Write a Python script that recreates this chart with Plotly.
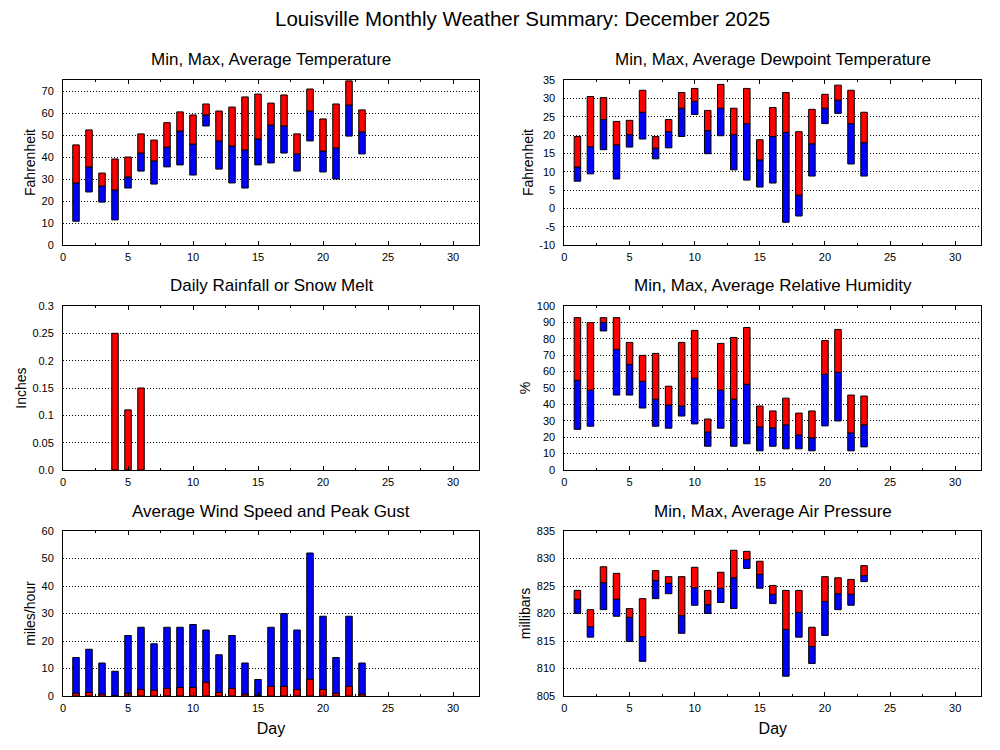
import plotly.graph_objects as go

days = list(range(1, 24))

temp_max = [45.5, 52.3, 32.7, 39.1, 40.0, 50.5, 47.7, 55.6, 60.5, 59.1, 64.1, 60.9, 62.7, 67.3, 68.6, 64.5, 68.2, 50.5, 70.9, 57.3, 64.1, 74.6, 61.4]
temp_avg = [28.2, 35.5, 26.8, 25.0, 30.9, 41.8, 38.2, 44.5, 51.8, 45.9, 59.1, 47.3, 45.0, 43.2, 48.2, 54.5, 54.1, 41.4, 60.9, 42.7, 44.1, 63.6, 51.4]
temp_min = [10.8, 24.1, 19.5, 11.4, 25.9, 33.6, 27.7, 35.5, 36.4, 31.8, 54.1, 34.5, 28.2, 25.9, 36.4, 37.3, 41.8, 33.6, 47.3, 33.2, 30.0, 49.5, 41.4]

dew_max = [19.6, 30.5, 30.2, 23.7, 24.0, 32.2, 19.6, 24.2, 31.6, 32.7, 26.7, 33.8, 27.3, 32.7, 18.7, 27.5, 31.6, 20.9, 27.0, 31.1, 33.6, 32.2, 26.2]
dew_avg = [11.3, 16.8, 24.2, 17.3, 20.1, 26.2, 16.4, 20.9, 27.3, 29.2, 21.2, 27.3, 20.1, 23.1, 13.2, 19.6, 20.7, 3.6, 17.6, 27.3, 29.5, 23.1, 17.9]
dew_min = [7.4, 9.4, 16.0, 8.0, 16.7, 18.9, 13.5, 16.5, 19.6, 25.6, 14.9, 19.8, 10.5, 7.7, 5.8, 6.9, -3.8, -2.1, 8.8, 23.1, 25.9, 12.1, 8.8]
dew_tickvals = [-10, -5, 0, 5, 10, 15, 20, 25, 30, 35]
dew_ticktext = ["-10", "-5", "0", "5", "10", "15", "20", "25", "30", "35"]

rain_days = [4, 5, 6]
rain_in = [0.25, 0.11, 0.15]
rain_tickvals = [0, 0.05, 0.1, 0.15, 0.2, 0.25, 0.3]
rain_ticktext = ["0.0", "0.05", "0.1", "0.15", "0.2", "0.25", "0.3"]

hum_max = [92.9, 89.9, 92.9, 92.9, 77.8, 69.9, 71.1, 51.1, 77.8, 85.1, 31.1, 77.2, 80.8, 86.9, 39.0, 36.0, 43.8, 34.7, 36.0, 79.0, 85.7, 45.7, 45.1]
hum_avg = [54.7, 48.7, 89.9, 73.5, 64.4, 54.1, 43.2, 39.6, 39.0, 56.0, 23.2, 48.7, 43.2, 52.3, 26.3, 25.7, 27.5, 21.4, 19.6, 58.4, 59.6, 22.6, 27.5]
hum_min = [24.8, 26.7, 84.8, 45.7, 45.7, 37.8, 26.7, 25.5, 32.9, 28.1, 14.5, 25.5, 14.5, 16.0, 11.7, 14.5, 12.9, 12.9, 11.7, 26.9, 29.9, 11.7, 14.1]

wind_gust = [14, 17, 12, 9, 22, 25, 19, 25, 25, 26, 24, 15, 22, 12, 6, 25, 30, 24, 52, 29, 14, 29, 12]
wind_avg = [1.0, 1.3, 0.7, 0.2, 1.0, 2.4, 2.1, 2.8, 3.1, 3.1, 5.0, 1.3, 2.8, 0.7, 0.0, 3.5, 3.5, 2.4, 6.1, 2.4, 1.0, 3.5, 0.7]

pres_max = [824.2, 820.7, 828.5, 827.3, 820.9, 822.7, 827.8, 826.7, 826.7, 828.4, 824.2, 827.5, 831.5, 831.3, 829.5, 825.1, 824.2, 824.2, 817.5, 826.7, 826.5, 826.2, 828.7]
pres_avg = [822.6, 817.6, 825.6, 822.6, 819.3, 815.8, 826.0, 825.5, 819.6, 824.7, 821.6, 824.6, 826.5, 829.8, 827.1, 823.5, 817.1, 820.2, 814.0, 822.2, 823.6, 823.5, 826.9]
pres_min = [820.0, 815.7, 820.7, 819.5, 814.9, 811.3, 822.7, 823.6, 816.4, 821.5, 820.0, 822.0, 820.9, 828.2, 824.6, 821.8, 808.6, 815.7, 810.9, 816.0, 820.7, 821.5, 825.8]

RED = "#ff0000"
BLUE = "#0000ff"
FONT = "Liberation Sans"
BW = 0.5

fig = go.Figure()


def bar(x, base, top, color, ax):
    fig.add_trace(go.Bar(
        x=x, base=base, y=[t - b for t, b in zip(top, base)],
        width=BW, marker=dict(color=color, line=dict(color="black", width=1)),
        xaxis="x" + ax, yaxis="y" + ax, showlegend=False, hoverinfo="skip"))


def minmax(mn, av, mx, ax):
    bar(days, mn, av, BLUE, ax)
    bar(days, av, mx, RED, ax)


minmax(temp_min, temp_avg, temp_max, "")
minmax(dew_min, dew_avg, dew_max, "2")
bar(rain_days, [0] * len(rain_days), rain_in, RED, "3")
minmax(hum_min, hum_avg, hum_max, "4")
bar(days, [0] * len(days), wind_gust, BLUE, "5")
bar(days, [0] * len(days), wind_avg, RED, "5")
minmax(pres_min, pres_avg, pres_max, "6")

xl = [0.063, 0.479]
xr = [0.5644, 0.9813]
rows = [[1 - 245 / 750, 1 - 80 / 750], [1 - 470 / 750, 1 - 306 / 750], [1 - 696 / 750, 1 - 531 / 750]]

tickfont = dict(family=FONT, size=11, color="black")


def xax(dom, anchor, title=None):
    d = dict(domain=dom, anchor=anchor, range=[0, 32], tick0=0, dtick=5,
             ticks="inside", ticklen=4, tickcolor="black", tickwidth=1,
             minor=dict(dtick=2.5, ticks="inside", ticklen=2, tickcolor="black"),
             showline=True, linecolor="black", linewidth=1, mirror="ticks",
             showgrid=False, zeroline=False, tickfont=tickfont, ticklabelstandoff=2,
             automargin=False)
    if title:
        d["title"] = dict(text=title, font=dict(family=FONT, size=16, color="black"), standoff=9)
    return d


def yax(dom, anchor, rng, dtick, title, **kw):
    d = dict(domain=dom, anchor=anchor, range=rng, dtick=dtick, tick0=0,
             ticks="", showline=True, linecolor="black", linewidth=1, mirror=True,
             showgrid=True, gridcolor="black", gridwidth=1, griddash="1px,2px",
             zeroline=False, tickfont=tickfont, ticklabelstandoff=6, automargin=False,
             title=dict(text=title, font=dict(family=FONT, size=14, color="black"), standoff=2))
    d.update(kw)
    return d


fig.update_layout(
    width=1000, height=750,
    margin=dict(l=0, r=0, t=0, b=0),
    paper_bgcolor="white", plot_bgcolor="white",
    barmode="overlay",
    font=dict(family=FONT, color="black"),
    xaxis=xax(xl, "y"),
    yaxis=yax(rows[0], "x", [0, 75], 10, "Fahrenheit"),
    xaxis2=xax(xr, "y2"),
    yaxis2=yax(rows[0], "x2", [-10, 35], 5, "Fahrenheit", tickvals=dew_tickvals, ticktext=dew_ticktext),
    xaxis3=xax(xl, "y3"),
    yaxis3=yax(rows[1], "x3", [0, 0.3], 0.05, "Inches", tickvals=rain_tickvals, ticktext=rain_ticktext),
    xaxis4=xax(xr, "y4"),
    yaxis4=yax(rows[1], "x4", [0, 100], 10, "%"),
    xaxis5=xax(xl, "y5", "Day"),
    yaxis5=yax(rows[2], "x5", [0, 60], 10, "miles/hour"),
    xaxis6=xax(xr, "y6", "Day"),
    yaxis6=yax(rows[2], "x6", [805, 835], 5, "millibars"),
)

titles = [
    ("Louisville Monthly Weather Summary: December 2025", 0.522, 1 - 18 / 750, 20.5),
    ("Min, Max, Average Temperature", sum(xl) / 2, 1 - 60 / 750, 17),
    ("Min, Max, Average Dewpoint Temperature", sum(xr) / 2, 1 - 60 / 750, 17),
    ("Daily Rainfall or Snow Melt", sum(xl) / 2, 1 - 285 / 750, 17),
    ("Min, Max, Average Relative Humidity", sum(xr) / 2, 1 - 285 / 750, 17),
    ("Average Wind Speed and Peak Gust", sum(xl) / 2, 1 - 511 / 750, 17),
    ("Min, Max, Average Air Pressure", sum(xr) / 2, 1 - 511 / 750, 17),
]
for text, x, y, size in titles:
    fig.add_annotation(text=text, x=x, y=y, xref="paper", yref="paper",
                       xanchor="center", yanchor="middle", showarrow=False,
                       font=dict(family=FONT, size=size, color="black"))

post = """
document.documentElement.style.cssText='margin:0;padding:0;overflow:hidden;height:750px;';
document.body.style.cssText='margin:0;padding:0;overflow:hidden;height:750px;';
"""
fig.write_html("out.html", config={"displayModeBar": False}, post_script=post)
